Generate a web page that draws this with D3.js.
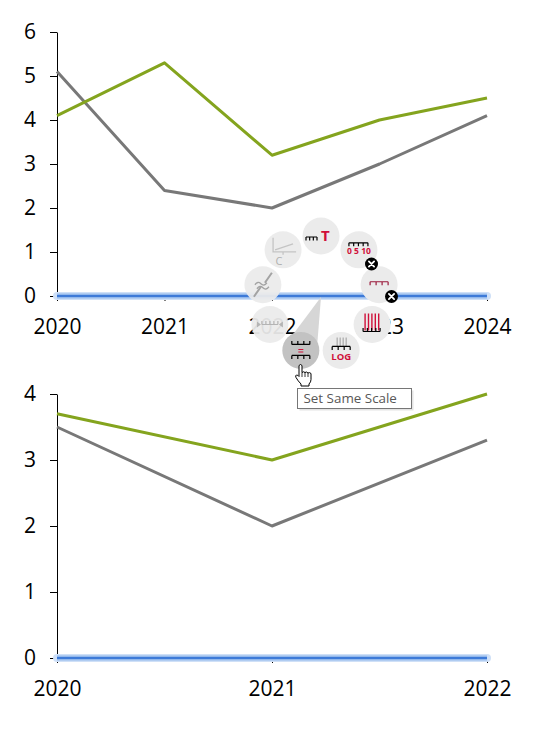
<!DOCTYPE html>
<html>
<head>
<meta charset="utf-8">
<script src="https://cdn.jsdelivr.net/npm/d3@7"></script>
<style>
  body { margin: 0; background: #fff; }
  svg { display: block; }
</style>
</head>
<body>
<script>
// chart values
const topYears = [2020, 2021, 2022, 2023, 2024];
const topGreen = [4.1, 5.3, 3.2, 4.0, 4.5];
const topGray = [5.1, 2.4, 2.0, 3.0, 4.1];
const topYTicks = [0, 1, 2, 3, 4, 5, 6];

const bottomYears = [2020, 2021, 2022];
const bottomGreen = [3.7, 3.0, 4.0];
const bottomGray = [3.5, 2.0, 3.3];
const bottomYTicks = [0, 1, 2, 3, 4];

// radial menu items, clockwise from the top
const menuItems = ['title', 'labels', 'axisOff', 'bars', 'log', 'sameScale', 'arrows', 'break', 'cross'];
const disabledItems = ['arrows', 'break', 'cross'];
const hoverItem = 'sameScale';
const tooltipText = 'Set Same Scale';

const GREEN = '#84a41e', GRAY = '#787878', RED = '#d0103a';
const FONT = '"Open Sans", "Liberation Sans", sans-serif';

const svg = d3.select('body').append('svg')
  .attr('width', 533)
  .attr('height', 729);

function drawChart(years, green, gray, yTicks, top, bottom) {
  const x = d3.scaleLinear().domain([years[0], years[years.length - 1]]).range([57, 487]);
  const y = d3.scaleLinear().domain([0, yTicks[yTicks.length - 1]]).range([bottom, top]);
  const g = svg.append('g');

  // y axis
  const yAxis = g.append('g')
    .attr('transform', 'translate(57,0)')
    .call(d3.axisLeft(y).tickValues(yTicks).tickSize(7).tickSizeOuter(0).tickPadding(14).tickFormat(d3.format('d')));
  yAxis.selectAll('text').style('font-family', FONT).style('font-size', '21px').attr('fill', '#000');
  yAxis.select('.domain').attr('stroke', '#000');

  // x axis
  const xAxis = g.append('g')
    .attr('transform', `translate(0,${bottom})`)
    .call(d3.axisBottom(x).tickValues(years).tickSize(5).tickSizeOuter(0).tickPadding(18).tickFormat(d3.format('d')));
  xAxis.selectAll('text').style('font-family', FONT).style('font-size', '21px').attr('fill', '#000');

  // selected axis highlight
  const hl = g.append('g');
  hl.append('line').attr('x1', x.range()[0]).attr('x2', x.range()[1]).attr('y1', bottom).attr('y2', bottom)
    .attr('stroke', '#cfe0f7').attr('stroke-width', 8).attr('stroke-linecap', 'round');
  hl.append('line').attr('x1', x.range()[0]).attr('x2', x.range()[1]).attr('y1', bottom).attr('y2', bottom)
    .attr('stroke', '#92b8ec').attr('stroke-width', 5);
  hl.append('line').attr('x1', x.range()[0]).attr('x2', x.range()[1]).attr('y1', bottom).attr('y2', bottom)
    .attr('stroke', '#3d7ad8').attr('stroke-width', 2);

  const line = d3.line().x((d, i) => x(years[i])).y(d => y(d));
  g.append('path').datum(gray).attr('d', line)
    .attr('fill', 'none').attr('stroke', GRAY).attr('stroke-width', 3).attr('stroke-linejoin', 'round');
  g.append('path').datum(green).attr('d', line)
    .attr('fill', 'none').attr('stroke', GREEN).attr('stroke-width', 3).attr('stroke-linejoin', 'round');
}

drawChart(topYears, topGreen, topGray, topYTicks, 32, 296);
drawChart(bottomYears, bottomGreen, bottomGray, bottomYTicks, 394, 658);

// ---- radial menu overlay ----
const cx = 321, cy = 295, ringR = 59, r = 18.5;
const menu = svg.append('g');
const angle = i => (-90 + 40 * i) * Math.PI / 180;
const pos = i => [cx + ringR * Math.cos(angle(i)), cy + ringR * Math.sin(angle(i))];

// wedge pointing at the hovered item
const hi = menuItems.indexOf(hoverItem);
const [hx, hy] = pos(hi);
const px = -Math.sin(angle(hi)), py = Math.cos(angle(hi));
menu.append('path')
  .attr('d', `M${cx},${cy + 2} L${hx + px * (r - 2)},${hy + py * (r - 2)} L${hx - px * (r - 2)},${hy - py * (r - 2)} Z`)
  .attr('fill', '#d6d6d6');

function ruler(g, x0, x1, yy, n, dir, color) {
  let d = `M${x0},${yy} L${x1},${yy}`;
  for (let k = 0; k < n; k++) {
    const xx = x0 + (x1 - x0) * k / (n - 1);
    d += ` M${xx},${yy} L${xx},${yy + dir * 3.5}`;
  }
  g.append('path').attr('d', d).attr('fill', 'none').attr('stroke', color).attr('stroke-width', 1.2);
}

function badge(x, y) {
  const b = menu.append('g').attr('transform', `translate(${x},${y})`);
  b.append('circle').attr('r', 6.5).attr('fill', '#000');
  b.append('path').attr('d', 'M-2.6,-2.6 L2.6,2.6 M2.6,-2.6 L-2.6,2.6')
    .attr('stroke', '#fff').attr('stroke-width', 1.8).attr('stroke-linecap', 'round');
}

menuItems.forEach((name, i) => {
  const [x, y] = pos(i);
  const disabled = disabledItems.includes(name);
  const g = menu.append('g').attr('transform', `translate(${x},${y})`);
  g.append('circle').attr('r', r)
    .attr('fill', name === hoverItem ? '#c2c2c2' : '#ebebeb')
    .attr('fill-opacity', disabled ? 0.94 : 1);
  const dim = '#b4b4b4';

  if (name === 'title') {
    ruler(g, -15, -4, 1, 4, 1, '#000');
    g.append('text').attr('x', 0).attr('y', 5).text('T')
      .style('font-family', FONT).style('font-size', '15px').style('font-weight', 'bold').attr('fill', RED);
  } else if (name === 'labels') {
    ruler(g, -10, 9, -7, 5, 1, '#000');
    g.append('text').attr('x', 0).attr('y', 4).attr('text-anchor', 'middle').text('0 5 10')
      .style('font-family', FONT).style('font-size', '8.5px').style('font-weight', 'bold').attr('fill', RED);
  } else if (name === 'axisOff') {
    ruler(g, -9, 9, -3, 4, 1, '#9b1b3c');
  } else if (name === 'bars') {
    let d = '';
    for (let k = 0; k < 5; k++) d += `M${-7 + k * 3.4},-11 L${-7 + k * 3.4},6 `;
    g.append('path').attr('d', d).attr('stroke', RED).attr('stroke-width', 1.4);
    ruler(g, -9, 8, 7, 5, -1, '#000');
  } else if (name === 'log') {
    let d = '';
    for (let k = 0; k < 4; k++) d += `M${-4 + k * 3},-13 L${-4 + k * 3},-4 `;
    g.append('path').attr('d', d).attr('stroke', '#a9a9a9').attr('stroke-width', 1.2);
    ruler(g, -9, 9, -4, 4, 1, '#000');
    g.append('text').attr('x', 0).attr('y', 10).attr('text-anchor', 'middle').text('LOG')
      .style('font-family', FONT).style('font-size', '9.5px').style('font-weight', 'bold').attr('fill', RED);
  } else if (name === 'sameScale') {
    ruler(g, -9, 9, -6, 4, -1, '#000');
    g.append('path').attr('d', 'M-2.5,-1 L2.5,-1 M-2.5,1.5 L2.5,1.5').attr('stroke', RED).attr('stroke-width', 1.1);
    ruler(g, -9, 9, 5, 4, 1, '#000');
  } else if (name === 'arrows') {
    g.append('path').attr('d', 'M-13,-3 L-9,0 L-13,3 Z M13,-3 L9,0 L13,3 Z').attr('fill', dim);
    ruler(g, -8, 8, 0, 5, -1, dim);
  } else if (name === 'break') {
    g.append('path').attr('d', 'M-9,12 L-2,2 M2,-2 L9,-12').attr('stroke', '#a3a3a3').attr('stroke-width', 2);
    g.append('path').attr('d', 'M-8,0 Q-5,-4 -2,-1 T4,-2 M-6,4 Q-3,0 0,3 T6,2').attr('fill', 'none')
      .attr('stroke', '#a3a3a3').attr('stroke-width', 1.3);
  } else if (name === 'cross') {
    g.append('path').attr('d', 'M-10,-12 L-10,2 L13,2 M-8,0 L10,-6 M0,2 L0,5')
      .attr('fill', 'none').attr('stroke', '#c4c4c4').attr('stroke-width', 1.3);
    g.append('text').attr('x', -4).attr('y', 15).attr('text-anchor', 'middle').text('C')
      .style('font-family', FONT).style('font-size', '11px').attr('fill', '#b0b0b0');
  }
});

badge(371.5, 264);
badge(391.5, 296.5);

// tooltip
const tip = svg.append('g').attr('transform', 'translate(297.5,388.5)');
tip.append('rect').attr('x', 2).attr('y', 2).attr('width', 114).attr('height', 20).attr('fill', '#e4e4e4');
tip.append('rect').attr('width', 114).attr('height', 20).attr('fill', '#fff').attr('stroke', '#767676');
tip.append('text').attr('x', 6).attr('y', 14.5).text(tooltipText)
  .style('font-family', FONT).style('font-size', '13.4px').attr('fill', '#575757');

// hand cursor
const hand = svg.append('g').attr('transform', 'translate(295,364)');
hand.append('path')
  .attr('d', 'M4,1.5 Q5.5,-0.5 7,1.5 L7,8.5 Q8.5,7 10,8.5 Q11.5,7.3 13,9 Q14.5,8 16,9.5 L16,15.5 Q16,18 14,20 L14,22 L6,22 L6,20 Q3,17 1,13.5 Q0,11.5 1.5,11 Q3,11 4,12.5 Z')
  .attr('fill', '#fff').attr('stroke', '#000').attr('stroke-width', 1);
hand.append('path').attr('d', 'M7,8.5 L7,13 M10,8.5 L10,13 M13,9 L13,13')
  .attr('stroke', '#000').attr('stroke-width', 0.8);
</script>
</body>
</html>
